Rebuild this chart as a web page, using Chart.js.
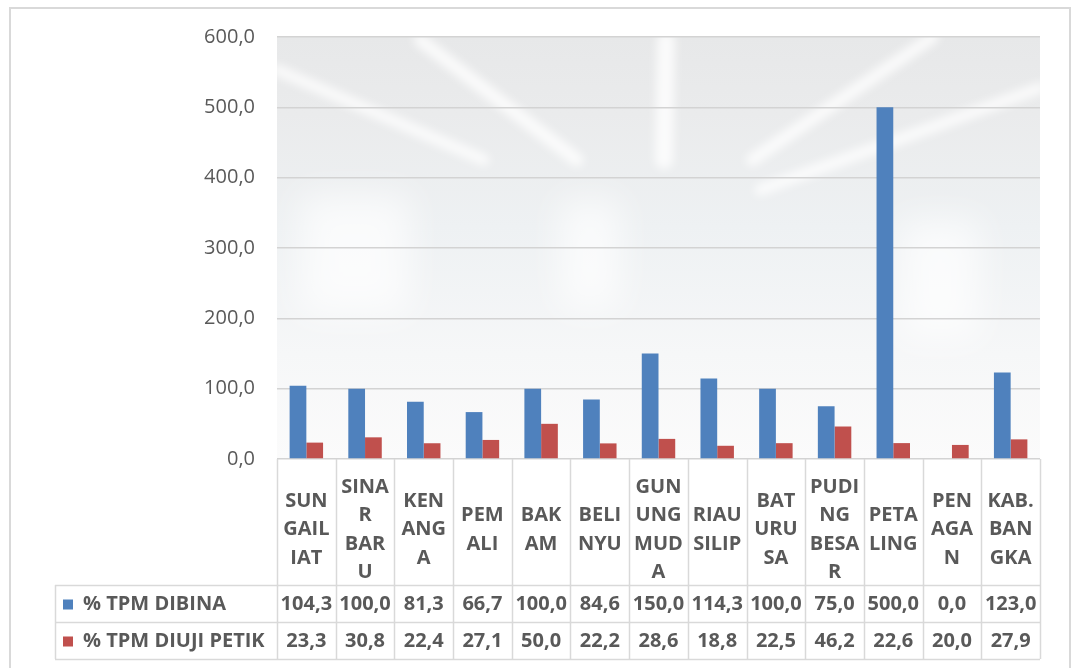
<!DOCTYPE html>
<html>
<head>
<meta charset="utf-8">
<script src="https://cdn.jsdelivr.net/npm/chart.js@4.4.1/dist/chart.umd.min.js"></script>
<style>
  html, body { margin: 0; padding: 0; background: #ffffff; }
  #wrap { width: 1073px; height: 668px; }
</style>
</head>
<body>
<div id="wrap"><canvas id="tpmChart" width="1073" height="668"></canvas></div>
<script>
// Data from the chart
const categories = [
  ["SUN", "GAIL", "IAT"],
  ["SINA", "R", "BAR", "U"],
  ["KEN", "ANG", "A"],
  ["PEM", "ALI"],
  ["BAK", "AM"],
  ["BELI", "NYU"],
  ["GUN", "UNG", "MUD", "A"],
  ["RIAU", "SILIP"],
  ["BAT", "URU", "SA"],
  ["PUDI", "NG", "BESA", "R"],
  ["PETA", "LING"],
  ["PEN", "AGA", "N"],
  ["KAB.", "BAN", "GKA"]
];
const seriesNames = ["% TPM DIBINA", "% TPM DIUJI PETIK"];
const tpmDibina = [104.3, 100.0, 81.3, 66.7, 100.0, 84.6, 150.0, 114.3, 100.0, 75.0, 500.0, 0.0, 123.0];
const tpmDiujiPetik = [23.3, 30.8, 22.4, 27.1, 50.0, 22.2, 28.6, 18.8, 22.5, 46.2, 22.6, 20.0, 27.9];
const yTicks = [0, 100, 200, 300, 400, 500, 600];

const barColors = ["#4f81bd", "#c0504d"];
const textColor = "#595959";
const lineColor = "#d9d9d9";
const tableFont = "bold 20px 'Open Sans'";

// angka pakai koma desimal
function fmt(v) {
  return v.toFixed(1).replace(".", ",");
}

// background: outer frame + faded photo look in the plot area
const backgroundPlugin = {
  id: "background",
  beforeDraw(chart) {
    const ctx = chart.ctx;
    const a = chart.chartArea;
    ctx.save();
    ctx.fillStyle = "#ffffff";
    ctx.fillRect(0, 0, chart.width, chart.height);
    ctx.strokeStyle = "#d9d9d9";
    ctx.lineWidth = 2;
    ctx.strokeRect(10, 8, 1060, 680);

    ctx.beginPath();
    ctx.rect(a.left, a.top, a.right - a.left, a.bottom - a.top);
    ctx.clip();
    const g = ctx.createLinearGradient(0, a.top, 0, a.bottom);
    g.addColorStop(0, "#e7e8e9");
    g.addColorStop(0.18, "#eaebec");
    g.addColorStop(0.45, "#eef1f3");
    g.addColorStop(0.75, "#f6f7f8");
    g.addColorStop(1, "#fbfbfb");
    ctx.fillStyle = g;
    ctx.fillRect(a.left, a.top, a.right - a.left, a.bottom - a.top);

    // ceiling lights
    ctx.filter = "blur(5px)";
    ctx.strokeStyle = "rgba(255,255,255,0.8)";
    ctx.lineCap = "round";
    const streaks = [
      [277, 70, 484, 160, 11],
      [420, 40, 577, 160, 13],
      [933, 37, 752, 160, 12],
      [1040, 88, 760, 190, 11]
    ];
    streaks.forEach(s => {
      ctx.lineWidth = s[4];
      ctx.beginPath();
      ctx.moveTo(s[0], s[1]);
      ctx.lineTo(s[2], s[3]);
      ctx.stroke();
    });
    ctx.lineWidth = 18;
    ctx.beginPath();
    ctx.moveTo(666, 40);
    ctx.lineTo(664, 160);
    ctx.stroke();
    // pale areas lower down
    ctx.filter = "blur(18px)";
    ctx.fillStyle = "rgba(255,255,255,0.7)";
    ctx.fillRect(300, 195, 110, 120);
    ctx.fillRect(560, 200, 60, 110);
    ctx.fillRect(900, 220, 80, 120);
    ctx.restore();
  }
};

// data table under the axis
const tablePlugin = {
  id: "dataTable",
  afterDraw(chart) {
    const ctx = chart.ctx;
    const a = chart.chartArea;
    const x = chart.scales.x;
    const n = categories.length;
    const catW = (a.right - a.left) / n;
    const rowTop = a.bottom + 126;
    const rowH = 37;
    const legendLeft = 55;

    ctx.save();
    ctx.strokeStyle = lineColor;
    ctx.lineWidth = 1.5;
    ctx.beginPath();
    for (let i = 0; i <= n; i++) {
      const px = Math.round(a.left + i * catW) + 0.5;
      ctx.moveTo(px, a.bottom);
      ctx.lineTo(px, rowTop + rowH * 2);
    }
    ctx.moveTo(legendLeft + 0.5, rowTop);
    ctx.lineTo(legendLeft + 0.5, rowTop + rowH * 2);
    for (let r = 0; r <= 2; r++) {
      const py = Math.round(rowTop + r * rowH) + 0.5;
      ctx.moveTo(legendLeft, py);
      ctx.lineTo(a.right, py);
    }
    ctx.stroke();

    const rows = [tpmDibina, tpmDiujiPetik];
    ctx.font = tableFont;
    ctx.textBaseline = "middle";
    rows.forEach((vals, r) => {
      const cy = rowTop + r * rowH + rowH / 2 + 1;
      // legend key
      ctx.fillStyle = barColors[r];
      ctx.fillRect(63, cy - 5, 10, 10);
      ctx.fillStyle = textColor;
      ctx.textAlign = "left";
      ctx.fillText(seriesNames[r], 83, cy);
      ctx.textAlign = "center";
      vals.forEach((v, i) => {
        ctx.fillText(fmt(v), x.getPixelForValue(i), cy);
      });
    });
    ctx.restore();
  }
};

new Chart("tpmChart", {
  type: "bar",
  data: {
    labels: categories,
    datasets: [
      {
        label: seriesNames[0],
        data: tpmDibina,
        backgroundColor: barColors[0],
        categoryPercentage: 0.57,
        barPercentage: 1
      },
      {
        label: seriesNames[1],
        data: tpmDiujiPetik,
        backgroundColor: barColors[1],
        categoryPercentage: 0.57,
        barPercentage: 1
      }
    ]
  },
  options: {
    responsive: false,
    animation: false,
    layout: {
      padding: { left: 0, right: 33, top: 37, bottom: 83 }
    },
    plugins: {
      legend: { display: false },
      tooltip: { enabled: false }
    },
    scales: {
      x: {
        grid: { display: false },
        border: { display: false },
        ticks: {
          color: textColor,
          font: { family: "'Open Sans'", size: 20, weight: "bold", lineHeight: 1.42 },
          padding: 20,
          crossAlign: "center",
          maxRotation: 0,
          autoSkip: false
        },
        afterFit(scale) {
          scale.height = 126;
        }
      },
      y: {
        min: yTicks[0],
        max: yTicks[yTicks.length - 1],
        border: { display: false },
        grid: { color: "#d3d3d3", lineWidth: 1.5, drawTicks: false },
        afterBuildTicks(scale) {
          scale.ticks = yTicks.map(v => ({ value: v }));
        },
        ticks: {
          color: textColor,
          font: { family: "'Open Sans'", size: 20 },
          padding: 22,
          callback: v => fmt(v)
        },
        afterFit(scale) {
          scale.width = 277;
        }
      }
    }
  },
  plugins: [backgroundPlugin, tablePlugin]
});
</script>
</body>
</html>
